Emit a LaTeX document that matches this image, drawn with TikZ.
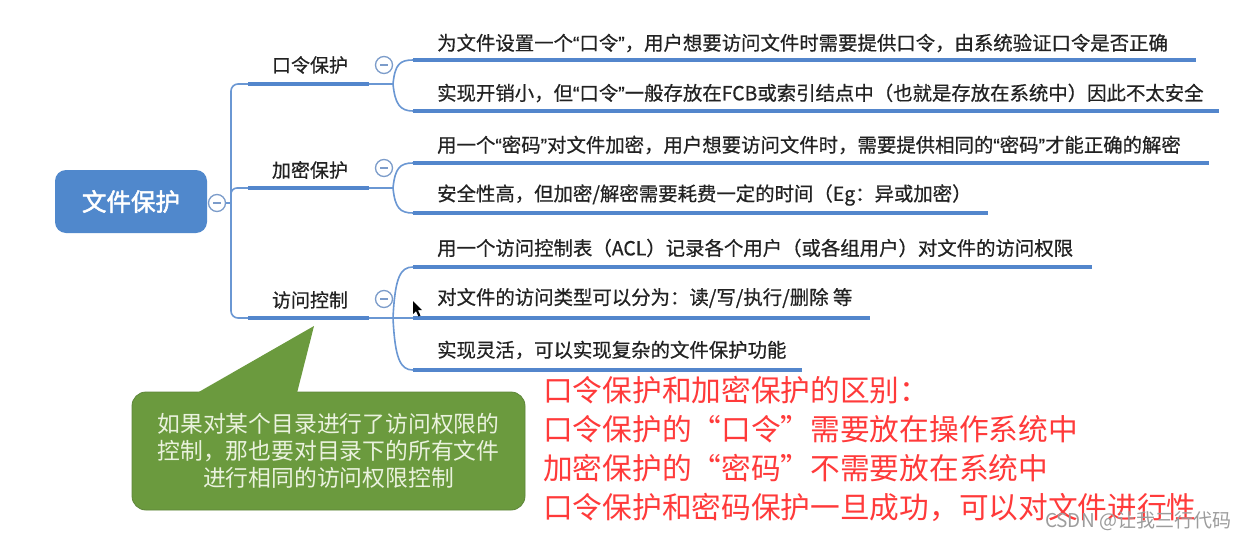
\documentclass[tikz,border=0pt]{standalone}
\usepackage{fontspec}
\setmainfont{Noto Sans CJK SC}
\newfontfamily\cjkmed[FakeBold=0.6]{Noto Sans CJK SC}
\newfontfamily\cjkbold[FakeBold=2]{Noto Sans CJK SC}
\newfontfamily\latq[FakeBold=0.6]{Liberation Sans}
\newcommand{\myLQ}{{\latq “}}
\newcommand{\myRQ}{{\latq ”}}
\definecolor{lineblue}{HTML}{6A97D3}
\definecolor{barblue}{HTML}{5386CC}
\definecolor{rootblue}{HTML}{5088CC}
\definecolor{circblue}{HTML}{7C9CCA}
\definecolor{textdark}{HTML}{222222}
\definecolor{notegreen}{HTML}{6B9A3E}
\definecolor{noteedge}{HTML}{5E8639}
\definecolor{notetext}{HTML}{EAF2DE}
\definecolor{redtxt}{HTML}{FF3A3A}
\definecolor{wmgray}{HTML}{9C9C9C}
\begin{document}
\begin{tikzpicture}[x=1pt,y=-1pt,
  conn/.style={draw=lineblue, line width=1.6pt},
  bar/.style={draw=barblue, line width=4.5pt},
  rowtext/.style={anchor=west, inner sep=0pt, text=textdark, font=\cjkmed\fontsize{19.4}{22}\selectfont},
  branchtext/.style={inner sep=0pt, text=textdark, font=\cjkmed\fontsize{19}{22}\selectfont},
  rootbox/.style={rounded corners=11pt, fill=rootblue, text=white, minimum width=152pt, minimum height=63pt, inner sep=0pt, font=\cjkbold\fontsize{24.5}{28}\selectfont},
  minus/.style={circle, draw=circblue, line width=1.3pt, fill=white, minimum size=17pt, inner sep=0pt,
    path picture={\draw[circblue, line width=1.5pt] ([xshift=-4pt]path picture bounding box.center) -- ([xshift=4pt]path picture bounding box.center);}},
  callbox/.style={rounded corners=14pt, fill=notegreen, draw=noteedge, line width=0.8pt, minimum width=393pt, minimum height=118pt, align=center, text=notetext, font=\fontsize{22.8}{27}\selectfont},
  redtext/.style={anchor=west, inner sep=0pt, text=redtxt, font=\fontsize{29.7}{33}\selectfont},
  wmtext/.style={inner sep=0pt, text=wmgray, font=\fontsize{19}{22}\selectfont}
]
\useasboundingbox (0,0) rectangle (1249,538);
\fill[white] (0,0) rectangle (1249,538);

% root
\node[rootbox] (root) at (131,201.5) {文件保护};
\node[minus] (c0) at (217,203) {};

% trunk coordinates
\coordinate (t1) at (231,84);
\coordinate (t3) at (231,318);
\coordinate (b1a) at (248,84);  \coordinate (b1b) at (369,84);  \coordinate (g1) at (393,84);
\coordinate (b2a) at (248,188); \coordinate (b2b) at (369,188); \coordinate (g2) at (393,188);
\coordinate (b3a) at (248,318); \coordinate (b3b) at (369,318); \coordinate (g3) at (393,318);

\draw[conn, rounded corners=7pt] (b1a) -- (t1) -- (t3) -- (b3a);
\draw[conn, rounded corners=6pt] (231,200) |- (b2a);
\draw[conn] (c0.east) -- (231,203);

% branches
\foreach \i in {1,2,3} {
  \draw[bar] (b\i a) -- (b\i b);
  \draw[conn] (b\i b) -- (g\i);
}
\node[branchtext] (n1) at (310,65) {口令保护};
\node[branchtext] (n2) at (310,170) {加密保护};
\node[branchtext] (n3) at (310,300) {访问控制};
\node[minus] (c1) at (384,65) {};
\node[minus] (c2) at (384,168) {};
\node[minus] (c3) at (384,299) {};

% rows
\node[rowtext] (r1) at (437,43) {为文件设置一个\myLQ 口令\myRQ，用户想要访问文件时需要提供口令，由系统验证口令是否正确};
\node[rowtext] (r2) at (437,93) {实现开销小，但\myLQ 口令\myRQ 一般存放在FCB或索引结点中（也就是存放在系统中）因此不太安全};
\node[rowtext] (r3) at (437,145) {用一个\myLQ 密码\myRQ 对文件加密，用户想要访问文件时，需要提供相同的\myLQ 密码\myRQ 才能正确的解密};
\node[rowtext] (r4) at (437,195) {安全性高，但加密/解密需要耗费一定的时间（Eg：异或加密）};
\node[rowtext] (r5) at (437,248) {用一个访问控制表（ACL）记录各个用户（或各组用户）对文件的访问权限};
\node[rowtext] (r6) at (437,298) {对文件的访问类型可以分为：读/写/执行/删除 等};
\node[rowtext] (r7) at (437,350) {实现灵活，可以实现复杂的文件保护功能};

\coordinate (u1s) at (413,60);  \coordinate (u1e) at (1196,60);
\coordinate (u2s) at (413,111); \coordinate (u2e) at (1219,111);
\coordinate (u3s) at (413,163); \coordinate (u3e) at (1209,163);
\coordinate (u4s) at (413,213); \coordinate (u4e) at (988,213);
\coordinate (u5s) at (413,267); \coordinate (u5e) at (1092,267);
\coordinate (u6s) at (413,318); \coordinate (u6e) at (870,318);
\coordinate (u7s) at (413,370); \coordinate (u7e) at (802,370);
\foreach \i in {1,...,7} { \draw[bar] (u\i s) -- (u\i e); }

% sub-branch curves
\draw[conn] (g1) .. controls (395,64) and (400,60) .. (u1s);
\draw[conn] (g1) .. controls (395,104) and (400,111) .. (u2s);
\draw[conn] (g2) .. controls (395,168) and (400,163) .. (u3s);
\draw[conn] (g2) .. controls (395,208) and (400,213) .. (u4s);
\draw[conn] (g3) .. controls (395,278) and (400,267) .. (u5s);
\draw[conn] (g3) -- (u6s);
\draw[conn] (g3) .. controls (395,358) and (400,370) .. (u7s);

% cursor
\fill[black] (413,301) -- (413,314) -- (416,311) -- (418.5,316.5) -- (420.5,315.6) -- (418,310.2) -- (422,310.2) -- cycle;

% callout
\node[callbox] (note) at (328.5,451) {如果对某个目录进行了访问权限的\\控制，那也要对目录下的所有文件\\进行相同的访问权限控制};
\coordinate (tip) at (314,326);
\fill[notegreen] (197,393) -- (tip) -- (297,393) -- cycle;

% red notes
\node[redtext] (d1) at (543,390) {口令保护和加密保护的区别：};
\node[redtext] (d2) at (543,429) {口令保护的“口令”需要放在操作系统中};
\node[redtext] (d3) at (543,468) {加密保护的“密码”不需要放在系统中};
\node[redtext] (d4) at (543,507) {口令保护和密码保护一旦成功，可以对文件进行性};

\node[wmtext] (wm) at (1138,521) {CSDN @让我三行代码};
\end{tikzpicture}
\end{document}
